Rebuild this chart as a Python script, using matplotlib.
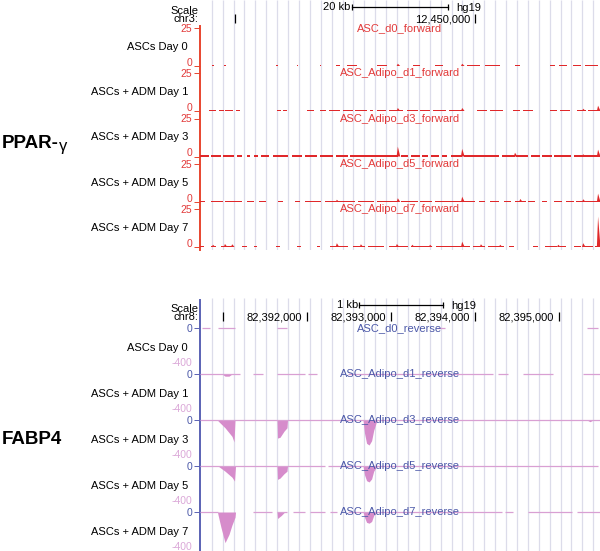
import matplotlib
matplotlib.use("Agg")
import matplotlib.pyplot as plt

plt.rcParams['font.family'] = ['Liberation Sans', 'DejaVu Sans']

W, H = 600, 551

# ---------------- data ----------------
# PPAR-gamma region, chr3 (kb)
top_xlim = (12392.7, 12476.0)
top_ticks = [12400, 12450]
top_tick_labels = ['', '12,450,000']
top_scalebar = (12424.4, 12444.4)

fwd_track_names = ['ASC_d0_forward', 'ASC_Adipo_d1_forward', 'ASC_Adipo_d3_forward',
                   'ASC_Adipo_d5_forward', 'ASC_Adipo_d7_forward']
sample_labels = ['ASCs Day 0', 'ASCs + ADM Day 1', 'ASCs + ADM Day 3',
                 'ASCs + ADM Day 5', 'ASCs + ADM Day 7']

# low-level coverage stretches (start, end) and spikes (position, height)
d0_fwd_spans = [(12395.3, 12395.6), (12397.8, 12398.1), (12408.6, 12408.9), (12412.8, 12413.1),
                (12417.6, 12417.9), (12421.1, 12421.8), (12423.3, 12425.4), (12429.6, 12431.7),
                (12437.1, 12438.5), (12441.7, 12443.3), (12448.3, 12451.0), (12452.0, 12455.2),
                (12458.3, 12459.4), (12465.6, 12466.6), (12467.5, 12469.1), (12470.4, 12472.0),
                (12472.8, 12475.6)]
d0_fwd_peaks = [(12433.9, 1.5), (12447.3, 1.5)]

d1_fwd_spans = [(12394.6, 12396.0), (12396.6, 12397.6), (12398.0, 12399.6), (12400.2, 12401.0),
                (12408.7, 12409.5), (12410.0, 12410.8), (12415.0, 12416.5), (12417.7, 12419.0),
                (12419.6, 12421.9), (12422.5, 12424.5), (12425.0, 12427.5), (12428.0, 12428.7),
                (12429.6, 12431.5), (12432.0, 12435.0), (12435.8, 12438.0), (12438.6, 12440.6),
                (12441.2, 12444.0), (12444.6, 12447.5), (12450.4, 12452.5), (12453.0, 12455.8),
                (12457.9, 12459.4), (12460.0, 12462.1), (12465.6, 12467.0), (12467.6, 12469.8),
                (12471.2, 12473.0), (12473.6, 12475.6)]
d1_fwd_peaks = [(12433.9, 2.0), (12447.3, 2.0), (12472.5, 1.5), (12475.6, 3.5)]

d3_fwd_spans = [(12392.8, 12394.5), (12395.0, 12397.0), (12397.4, 12399.8), (12400.5, 12401.5),
                (12402.5, 12403.2), (12404.0, 12404.8), (12405.5, 12407.0), (12408.0, 12411.0),
                (12411.8, 12414.0), (12414.6, 12417.0), (12417.6, 12420.5), (12421.0, 12423.5),
                (12424.0, 12433.9), (12434.6, 12436.0), (12436.6, 12438.5), (12439.0, 12440.2),
                (12440.8, 12442.5), (12443.0, 12444.2), (12445.0, 12447.3), (12447.6, 12455.0),
                (12455.5, 12458.3), (12458.6, 12461.0), (12461.6, 12463.5), (12464.0, 12466.0),
                (12466.5, 12470.0), (12470.5, 12475.9)]
d3_fwd_peaks = [(12433.9, 6.5), (12447.3, 5.0), (12458.3, 2.5), (12472.5, 1.5), (12475.6, 4.5)]

d5_fwd_spans = [(12392.8, 12393.8), (12395.0, 12397.5), (12398.0, 12401.5), (12402.5, 12404.0),
                (12405.0, 12406.5), (12409.0, 12410.0), (12412.5, 12413.5), (12414.5, 12418.0),
                (12418.8, 12421.0), (12421.5, 12425.0), (12425.6, 12429.0), (12429.6, 12433.9),
                (12434.5, 12438.0), (12438.6, 12441.0), (12441.6, 12447.3), (12447.6, 12450.0),
                (12450.8, 12452.0), (12453.0, 12455.0), (12456.0, 12457.5), (12458.3, 12460.5),
                (12461.0, 12462.5), (12464.0, 12465.0), (12466.5, 12468.0), (12469.0, 12470.5),
                (12471.0, 12475.9)]
d5_fwd_peaks = [(12421.2, 1.5), (12433.9, 2.5), (12447.3, 3.5), (12459.4, 2.0),
                (12472.5, 1.8), (12475.6, 5.5)]

d7_fwd_spans = [(12392.8, 12393.5), (12395.0, 12396.0), (12397.0, 12399.5), (12401.5, 12402.5),
                (12404.0, 12404.6), (12408.5, 12409.3), (12413.0, 12413.8), (12417.0, 12417.6),
                (12419.8, 12423.5), (12424.5, 12427.0), (12427.6, 12431.0), (12432.0, 12436.0),
                (12436.6, 12441.0), (12441.8, 12449.0), (12449.6, 12452.0), (12452.6, 12456.0),
                (12457.0, 12458.0), (12462.0, 12463.0), (12464.5, 12467.0), (12467.6, 12469.0),
                (12470.5, 12472.0), (12472.6, 12474.5), (12475.0, 12476.0)]
d7_fwd_peaks = [(12395.4, 1.5), (12397.9, 2.0), (12399.4, 1.8), (12421.2, 2.5), (12426.2, 1.8),
                (12433.7, 2.0), (12436.9, 1.5), (12440.6, 1.5), (12447.3, 3.5), (12451.2, 1.8),
                (12455.2, 1.5), (12467.3, 1.5), (12472.5, 2.5), (12475.6, 20.0)]

fwd_spans = [d0_fwd_spans, d1_fwd_spans, d3_fwd_spans, d5_fwd_spans, d7_fwd_spans]
fwd_peaks = [d0_fwd_peaks, d1_fwd_peaks, d3_fwd_peaks, d5_fwd_peaks, d7_fwd_peaks]

# FABP4 region, chr8 (kb)
bot_xlim = (82390.732, 82395.494)
bot_ticks = [82391, 82392, 82393, 82394, 82395]
bot_tick_labels = ['', '82,392,000', '82,393,000', '82,394,000', '82,395,000']
bot_scalebar = (82392.63, 82393.63)

rev_track_names = ['ASC_d0_reverse', 'ASC_Adipo_d1_reverse', 'ASC_Adipo_d3_reverse',
                   'ASC_Adipo_d5_reverse', 'ASC_Adipo_d7_reverse']

d0_rev_cover = [(82390.756, 82390.851), (82390.946, 82391.149), (82391.649, 82391.768),
                (82393.554, 82393.649), (82395.339, 82395.470)]
d1_rev_cover = [(82390.732, 82391.208), (82391.363, 82391.482), (82391.649, 82391.982),
                (82392.018, 82392.125), (82392.494, 82394.220), (82394.280, 82394.399),
                (82394.577, 82394.935), (82395.292, 82395.494)]
d3_rev_cover = [(82390.732, 82395.494)]
d5_rev_cover = [(82390.732, 82392.220), (82392.256, 82395.470)]
d7_rev_cover = [(82390.732, 82390.946), (82391.363, 82391.589), (82391.649, 82391.768),
                (82391.839, 82391.982), (82392.042, 82392.220), (82392.280, 82392.363),
                (82392.494, 82394.327), (82394.363, 82394.458), (82394.637, 82395.161),
                (82395.220, 82395.494)]

# signal profiles (positions, values)
d0_rev_signal = []
d1_rev_signal = [([82390.994, 82391.030, 82391.077, 82391.113], [0, -25, -25, 0])]
d3_rev_signal = [([82390.946, 82391.030, 82391.113, 82391.137, 82391.149], [-10, -90, -190, -255, 0]),
                 ([82391.649, 82391.655, 82391.685, 82391.732, 82391.768, 82391.774],
                  [0, -210, -200, -130, -90, 0]),
                 ([82392.673, 82392.690, 82392.715, 82392.745, 82392.775, 82392.800, 82392.839],
                  [0, -150, -270, -290, -240, -120, 0]),
                 ([82395.339, 82395.375, 82395.411], [0, -20, 0])]
d5_rev_signal = [([82390.946, 82391.030, 82391.113, 82391.143, 82391.155], [0, -60, -130, -175, 0]),
                 ([82391.649, 82391.655, 82391.685, 82391.732, 82391.768, 82391.774],
                  [0, -155, -140, -90, -60, 0]),
                 ([82392.673, 82392.690, 82392.715, 82392.745, 82392.775, 82392.800, 82392.839],
                  [0, -100, -170, -185, -150, -60, 0])]
d7_rev_signal = [([82390.940, 82390.946, 82390.982, 82391.030, 82391.077, 82391.113, 82391.149, 82391.155],
                  [0, -30, -180, -355, -260, -150, -60, 0]),
                 ([82391.649, 82391.655, 82391.700, 82391.740], [0, -75, -40, 0]),
                 ([82392.673, 82392.690, 82392.715, 82392.745, 82392.775, 82392.800, 82392.839],
                  [0, -60, -120, -130, -110, -40, 0])]

rev_cover = [d0_rev_cover, d1_rev_cover, d3_rev_cover, d5_rev_cover, d7_rev_cover]
rev_signal = [d0_rev_signal, d1_rev_signal, d3_rev_signal, d5_rev_signal, d7_rev_signal]

# ---------------- style ----------------
RED_AXIS = '#e8452f'
RED = '#e0282a'
RED_TXT = '#e23a3a'
BLUE = '#5a62b4'
BLUE_TXT = '#4b58a8'
PINK = '#d68ccb'
PINK_LINE = '#d9a0d3'
PINK_TXT = '#dba8d8'
GRID = '#dcdcea'
FS = 8


def box(x0, y0, x1, y1):
    return [x0 / W, 1 - y1 / H, (x1 - x0) / W, (y1 - y0) / H]


def bare(ax):
    for s in ax.spines.values():
        s.set_visible(False)
    ax.set_xticks([])
    ax.set_yticks([])
    ax.patch.set_alpha(0)


fig = plt.figure(figsize=(W / 100, H / 100), dpi=100)

# panel backgrounds with the light vertical guide lines
grid_fracs = [(11.7 + 10.9 * k) / 400 for k in range(36)]
for (y0, y1, y_spine, col) in [(0, 250, 26, RED_AXIS), (298, 551, 300, BLUE)]:
    pax = fig.add_axes(box(200, y0, 600, y1), zorder=0)
    bare(pax)
    pax.set_xlim(0, 1)
    pax.set_ylim(0, 1)
    pax.vlines(grid_fracs, 0, 1, color=GRID, lw=0.9)
    pax.axvline(0, 0, (y1 - y_spine) / (y1 - y0), color=col, lw=1.4, clip_on=False)


# headers
def header(y0, y1, xlim, bar, bar_label, ticks, labels, chrom):
    hax = fig.add_axes(box(200, y0, 600, y1), zorder=2)
    bare(hax)
    hax.set_xlim(*xlim)
    hax.set_ylim(y1 - y0, 0)
    hax.plot(bar, [7, 7], color='black', lw=0.9)
    hax.vlines(bar, 4, 10, color='black', lw=0.9)
    hax.text(bar[0] - (xlim[1] - xlim[0]) * 0.004, 7.5, bar_label, ha='right', va='center', fontsize=FS)
    hax.text(bar[1] + (xlim[1] - xlim[0]) * 0.02, 8, 'hg19', ha='left', va='center', fontsize=FS)
    hax.vlines(ticks, 14, 23, color='black', lw=0.9)
    for t, lab in zip(ticks, labels):
        if lab:
            hax.annotate(lab, (t, 19), xytext=(-3.5, 0), textcoords='offset points',
                         ha='right', va='center', fontsize=FS)
    fig.text(198 / W, 1 - (y0 + 10.5) / H, 'Scale', ha='right', va='center', fontsize=FS)
    fig.text(198 / W, 1 - (y0 + 19) / H, chrom, ha='right', va='center', fontsize=FS)


header(0, 26, top_xlim, top_scalebar, '20 kb', top_ticks, top_tick_labels, 'chr3:')
header(298, 326, bot_xlim, bot_scalebar, '1 kb', bot_ticks, bot_tick_labels, 'chr8:')

# forward (PPAR-gamma) tracks
top_base = [66, 111, 156.5, 202, 247]
for i in range(5):
    b = top_base[i]
    ax = fig.add_axes(box(200, b - 38, 600, b), zorder=3)
    bare(ax)
    ax.set_xlim(*top_xlim)
    ax.set_ylim(0, 25)
    ax.broken_barh([(s, e - s) for s, e in fwd_spans[i]], (0, 0.9), facecolor=RED, edgecolor='none')
    for p, h in fwd_peaks[i]:
        ax.fill([p - 0.25, p, p + 0.5], [0, h, 0], color=RED, lw=0)
    ax.set_yticks([0, 25])
    ax.set_yticklabels(['0', '25'])
    ax.tick_params(axis='y', length=4, width=0.7, colors=RED_AXIS, labelcolor=RED_TXT,
                   labelsize=7.5, pad=1.5)
    ax.yaxis.get_major_ticks()[0].label1.set_verticalalignment('baseline')
    ax.text(0.5, 1.0, fwd_track_names[i], transform=ax.transAxes, ha='center', va='center',
            fontsize=FS, color=RED_TXT)
    ax.text(-0.03, 0.5, sample_labels[i], transform=ax.transAxes, ha='right', va='center',
            fontsize=FS, color='black')

# reverse (FABP4) tracks
bot_top = [328, 374, 420, 466, 512]
for i in range(5):
    t = bot_top[i]
    ax = fig.add_axes(box(200, t, 600, t + 34.5), zorder=3)
    bare(ax)
    ax.set_xlim(*bot_xlim)
    ax.set_ylim(-400, 0)
    starts = [s for s, e in rev_cover[i]]
    ends = [e for s, e in rev_cover[i]]
    ax.hlines([0] * len(starts), starts, ends, color=PINK_LINE, lw=0.9, clip_on=False)
    for xs, ys in rev_signal[i]:
        ax.fill_between(xs, ys, 0, color=PINK, lw=0)
    ax.set_yticks([-400, 0])
    ax.set_yticklabels(['-400', '0'])
    ax.tick_params(axis='y', length=4, width=0.7, colors=BLUE, labelsize=7.5, pad=1.5)
    ax.get_yticklabels()[0].set_color(PINK_TXT)
    ax.get_yticklabels()[1].set_color(BLUE_TXT)
    ax.yaxis.get_major_ticks()[0].tick1line.set_visible(False)
    ax.text(0.5, 1.0, rev_track_names[i], transform=ax.transAxes, ha='center', va='center',
            fontsize=FS, color=BLUE_TXT)
    ax.text(-0.03, 0.42, sample_labels[i], transform=ax.transAxes, ha='right', va='center',
            fontsize=FS, color='black')

# gene titles
fig.text(2 / W, 1 - 143 / H, 'PPAR-', ha='left', va='center', fontsize=13.5, weight='bold')
fig.text(59 / W, 1 - 146 / H, 'γ', ha='left', va='center', fontsize=12)
fig.text(2 / W, 1 - 439 / H, 'FABP4', ha='left', va='center', fontsize=13.5, weight='bold')

fig.savefig('out.png', dpi=100)
